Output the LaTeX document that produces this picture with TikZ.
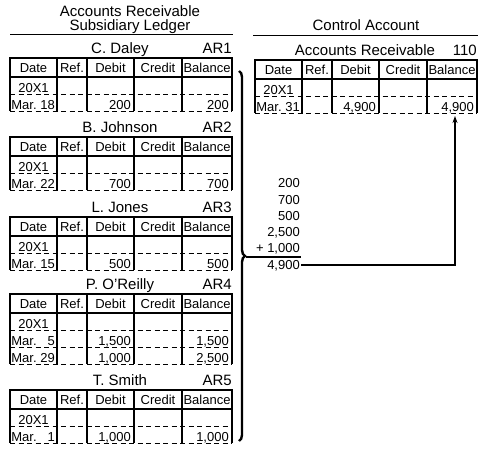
\documentclass[tikz,border=0pt]{standalone}
\usepackage{fontspec}
\setmainfont{Liberation Sans}
\usetikzlibrary{decorations.pathreplacing,arrows.meta}

\tikzset{
  x=1pt, y=-1pt,
  ttl/.style={font=\fontsize{15}{16}\selectfont, inner sep=0pt},
  cell/.style={font=\fontsize{13}{14}\selectfont, inner sep=0pt},
  rule/.style={line width=1.1pt},
  dashrule/.style={line width=0.9pt, dash pattern=on 5pt off 3.5pt},
  bracestyle/.style={line width=2.4pt, decorate, decoration={brace, amplitude=6pt, aspect=0.5}},
  link/.style={line width=1.1pt},
}

% #1 prefix, #2 x, #3 y top, #4 name, #5 ref, #6 rows, #7 number of rows
\newcommand{\ledgertab}[7]{%
\begin{scope}[shift={(#2,#3)}]
  \node[ttl, anchor=base] (#1-name) at (110,-5) {#4};
  \node[ttl, anchor=base east] (#1-ref) at (222,-5) {#5};
  \draw[rule] (0,0) rectangle (222,19);
  \foreach \cx/\lab [count=\k] in {23.5/Date,62/Ref.,100.5/Debit,148/Credit,197/Balance}
    \node[cell, anchor=base] (#1-h\k) at (\cx,14.5) {\lab};
  \pgfmathsetmacro\yb{36+17*#7}
  \foreach \cx in {0,47,77,124,172,222}
    \draw[rule] (\cx,0) -- (\cx,\yb);
  \draw[dashrule] (0,36) -- (222,36);
  \node[cell, anchor=base] (#1-yr) at (23.5,34.5) {20X1};
  \foreach \dd/\deb/\bal [count=\i] in {#6} {
    \pgfmathsetmacro\yy{36+17*\i}
    \draw[dashrule] (0,\yy) -- (222,\yy);
    \node[cell, anchor=base west] (#1-d\i) at (1.2,\yy-1.5) {\dd};
    \node[cell, anchor=base east] (#1-db\i) at (121,\yy-1.5) {\deb};
    \node[cell, anchor=base east] (#1-bl\i) at (219,\yy-1.5) {\bal};
  }
\end{scope}}

\begin{document}
\begin{tikzpicture}
  \useasboundingbox (0,0) rectangle (490,450);

  % left heading
  \node[ttl, anchor=base] (lt1) at (130,16.5) {Accounts Receivable};
  \node[ttl, anchor=base] (lt2) at (130,30.5) {Subsidiary Ledger};
  \draw[rule] (10,34.5) -- (233,34.5);

  % right heading
  \node[ttl, anchor=base] (rt1) at (366,30) {Control Account};
  \draw[rule] (253,35.5) -- (478,35.5);

  % subsidiary ledger accounts
  \ledgertab{ar1}{10}{58}{C. Daley}{AR1}{{Mar.\ 18}/{200}/{200}}{1}
  \ledgertab{ar2}{10}{137}{B. Johnson}{AR2}{{Mar.\ 22}/{700}/{700}}{1}
  \ledgertab{ar3}{10}{217}{L. Jones}{AR3}{{Mar.\ 15}/{500}/{500}}{1}
  \ledgertab{ar4}{10}{294}{P. O'Reilly}{AR4}{{Mar.\ \phantom{2}5}/{1,500}/{1,500},{Mar.\ 29}/{1,000}/{2,500}}{2}
  \ledgertab{ar5}{10}{390}{T. Smith}{AR5}{{Mar.\ \phantom{2}1}/{1,000}/{1,000}}{1}

  % control account
  \ledgertab{ctl}{255}{60}{Accounts Receivable}{110}{{Mar.\ 31}/{4,900}/{4,900}}{1}

  % brace
  \coordinate (btop) at (239,71);
  \coordinate (bbot) at (239,441);
  \draw[bracestyle] (btop) -- (bbot);
  \coordinate (btip) at (246,257);

  % sum column
  \node[cell, anchor=base east] (s1) at (300,187.5) {200};
  \node[cell, anchor=base east] (s2) at (300,204) {700};
  \node[cell, anchor=base east] (s3) at (300,220.5) {500};
  \node[cell, anchor=base east] (s4) at (300,236.5) {2,500};
  \node[cell, anchor=base east] (s5) at (300,252.5) {+ 1,000};
  \node[cell, anchor=base east] (tot) at (300,269.5) {4,900};
  \coordinate (sumend) at (301,257);
  \draw[rule] (btip) -- (sumend);

  % posting arrow
  \coordinate (tote) at (301,265);
  \coordinate (corner) at (455,265);
  \coordinate (arrtip) at (455,116);
  \draw[link, -{Stealth[length=7pt,width=5pt]}] (tote) -- (corner) -- (arrtip);
\end{tikzpicture}
\end{document}
